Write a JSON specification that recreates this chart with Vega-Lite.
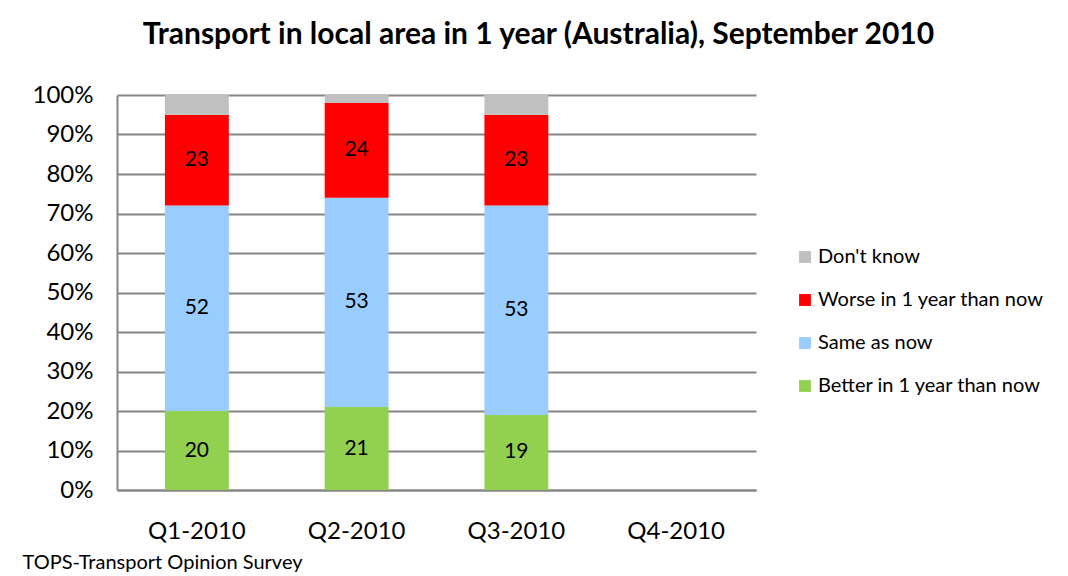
{
  "$schema": "https://vega.github.io/schema/vega-lite/v6.json",
  "autosize": "none",
  "width": 639,
  "height": 395,
  "padding": {"left": 117, "top": 95, "right": 312, "bottom": 86},
  "background": "white",
  "config": {
    "font": "Lato",
    "view": {"stroke": null}
  },
  "title": {
    "text": "Transport in local area in 1 year (Australia), September 2010",
    "font": "Lato",
    "fontSize": 30,
    "fontWeight": "bold",
    "color": "black",
    "anchor": "middle",
    "dx": 102,
    "offset": 33
  },
  "data": {
    "values": [
      {"quarter": "Q1-2010", "answer": "Better in 1 year than now", "value": 20},
      {"quarter": "Q1-2010", "answer": "Same as now", "value": 52},
      {"quarter": "Q1-2010", "answer": "Worse in 1 year than now", "value": 23},
      {"quarter": "Q1-2010", "answer": "Don't know", "value": 5},
      {"quarter": "Q2-2010", "answer": "Better in 1 year than now", "value": 21},
      {"quarter": "Q2-2010", "answer": "Same as now", "value": 53},
      {"quarter": "Q2-2010", "answer": "Worse in 1 year than now", "value": 24},
      {"quarter": "Q2-2010", "answer": "Don't know", "value": 2},
      {"quarter": "Q3-2010", "answer": "Better in 1 year than now", "value": 19},
      {"quarter": "Q3-2010", "answer": "Same as now", "value": 53},
      {"quarter": "Q3-2010", "answer": "Worse in 1 year than now", "value": 23},
      {"quarter": "Q3-2010", "answer": "Don't know", "value": 5}
    ]
  },
  "transform": [
    {"calculate": "indexof(['Better in 1 year than now','Same as now','Worse in 1 year than now','Don\\'t know'], datum.answer)", "as": "ord"},
    {"stack": "value", "groupby": ["quarter"], "sort": [{"field": "ord", "order": "ascending"}], "offset": "normalize", "as": ["y0", "y1"]},
    {"calculate": "(datum.y0 + datum.y1) / 2", "as": "mid"}
  ],
  "encoding": {
    "x": {
      "field": "quarter",
      "type": "nominal",
      "scale": {"domain": ["Q1-2010", "Q2-2010", "Q3-2010", "Q4-2010"], "paddingInner": 0.6, "paddingOuter": 0.3},
      "axis": {
        "labelAngle": 0,
        "labelFontSize": 24,
        "labelColor": "black",
        "labelPadding": 29,
        "ticks": false,
        "domainColor": "#868686",
        "domainWidth": 2,
        "title": "TOPS-Transport Opinion Survey",
        "titleFontSize": 20,
        "titleFontWeight": "normal",
        "titleColor": "black",
        "titleAlign": "left",
        "titleBaseline": "middle",
        "titleAnchor": "start",
        "titleX": -95,
        "titleY": 72
      }
    }
  },
  "layer": [
    {
      "mark": {"type": "bar"},
      "encoding": {
        "y": {
          "field": "y0",
          "type": "quantitative",
          "scale": {"domain": [0, 1]},
          "axis": {
            "format": ".0%",
            "values": [0, 0.1, 0.2, 0.3, 0.4, 0.5, 0.6, 0.7, 0.8, 0.9, 1],
            "labelOverlap": false,
            "labelFontSize": 24,
            "labelColor": "black",
            "labelPadding": 24,
            "ticks": false,
            "grid": true,
            "gridColor": "#868686",
            "gridWidth": 2,
            "domainColor": "#868686",
            "domainWidth": 2,
            "title": null
          }
        },
        "y2": {"field": "y1"},
        "color": {
          "field": "answer",
          "type": "nominal",
          "scale": {
            "domain": ["Don't know", "Worse in 1 year than now", "Same as now", "Better in 1 year than now"],
            "range": ["#C0C0C0", "#FF0000", "#99CCFF", "#92D050"]
          },
          "legend": {
            "title": null,
            "orient": "none",
            "legendX": 678,
            "legendY": 152,
            "symbolType": "square",
            "symbolSize": 140,
            "symbolStrokeWidth": 0,
            "labelFontSize": 20,
            "labelLimit": 400,
            "labelColor": "black",
            "labelOffset": 3,
            "rowPadding": 23
          }
        }
      }
    },
    {
      "transform": [{"filter": "datum.answer !== \"Don't know\""}],
      "mark": {"type": "text", "fontSize": 21, "color": "black", "baseline": "middle"},
      "encoding": {
        "y": {
          "field": "mid",
          "type": "quantitative",
          "axis": {
            "format": ".0%",
            "values": [0, 0.1, 0.2, 0.3, 0.4, 0.5, 0.6, 0.7, 0.8, 0.9, 1],
            "labelOverlap": false,
            "labelFontSize": 24,
            "labelColor": "black",
            "labelPadding": 24,
            "ticks": false,
            "grid": true,
            "gridColor": "#868686",
            "gridWidth": 2,
            "domainColor": "#868686",
            "domainWidth": 2,
            "title": null
          }
        },
        "text": {"field": "value", "type": "quantitative"}
      }
    }
  ]
}
